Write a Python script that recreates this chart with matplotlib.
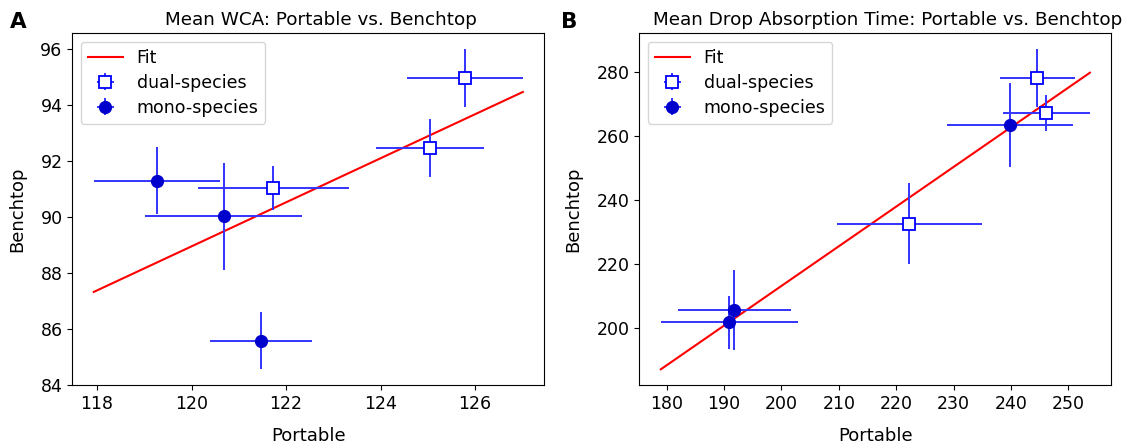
import matplotlib.pyplot as plt
import numpy as np

# Panel A: mean WCA
wca_mono_x = [119.27, 120.68, 121.47]
wca_mono_xerr = [1.34, 1.66, 1.08]
wca_mono_y = [91.29, 90.02, 85.58]
wca_mono_yerr = [1.2, 1.9, 1.03]

wca_dual_x = [121.73, 125.05, 125.78]
wca_dual_xerr = [1.6, 1.14, 1.23]
wca_dual_y = [91.03, 92.47, 94.96]
wca_dual_yerr = [0.78, 1.05, 1.04]

wca_fit = [0.788, -5.61]  # slope, intercept

# Panel B: mean drop absorption time
dat_mono_x = [190.89, 191.77, 239.8]
dat_mono_xerr = [11.93, 9.82, 11.0]
dat_mono_y = [201.67, 205.63, 263.23]
dat_mono_yerr = [8.2, 12.5, 13.1]

dat_dual_x = [222.3, 244.58, 246.16]
dat_dual_xerr = [12.6, 6.5, 7.6]
dat_dual_y = [232.5, 277.92, 267.08]
dat_dual_yerr = [12.65, 9.06, 5.5]

dat_fit = [1.239, -34.74]

panels = [
    ("A", "Mean WCA: Portable vs. Benchtop",
     (wca_mono_x, wca_mono_xerr, wca_mono_y, wca_mono_yerr),
     (wca_dual_x, wca_dual_xerr, wca_dual_y, wca_dual_yerr), wca_fit),
    ("B", "Mean Drop Absorption Time: Portable vs. Benchtop",
     (dat_mono_x, dat_mono_xerr, dat_mono_y, dat_mono_yerr),
     (dat_dual_x, dat_dual_xerr, dat_dual_y, dat_dual_yerr), dat_fit),
]

fig = plt.figure(figsize=(11.26, 4.43), dpi=100)
positions = [[0.0642, 0.1302, 0.4192, 0.7946], [0.5678, 0.1302, 0.4192, 0.7946]]
ecol = (0.2, 0.2, 1.0)

for (letter, title, mono, dual, fit), pos in zip(panels, positions):
    ax = fig.add_axes(pos)
    mx, mxe, my, mye = [np.array(v) for v in mono]
    dx, dxe, dy, dye = [np.array(v) for v in dual]

    # fit line spans the full extent of the horizontal error bars
    lo = min((mx - mxe).min(), (dx - dxe).min())
    hi = max((mx + mxe).max(), (dx + dxe).max())
    xs = np.linspace(lo, hi, 100)
    ax.plot(xs, fit[0] * xs + fit[1], color='red', lw=1.5, label='Fit', zorder=2)

    ax.errorbar(dx, dy, xerr=dxe, yerr=dye, fmt='s', ms=8, mfc='white',
                mec='blue', mew=1.3, ecolor=ecol, elinewidth=1.4, capsize=0,
                label='dual-species', zorder=3)
    ax.errorbar(mx, my, xerr=mxe, yerr=mye, fmt='o', ms=8.5, color='mediumblue',
                ecolor=ecol, elinewidth=1.4, capsize=0,
                label='mono-species', zorder=3)

    ax.set_title(title, fontsize=13.2, x=0.527)
    ax.set_xlabel('Portable', fontsize=13, labelpad=10)
    ax.set_ylabel('Benchtop', fontsize=13, labelpad=10)
    ax.tick_params(labelsize=12.5)
    ax.legend(loc='upper left', fontsize=12.5, labelspacing=0.4)
    fig.text(pos[0] - 0.055 if letter == "A" else pos[0] - 0.07, 0.937, letter,
             fontsize=15.5, fontweight='bold')

fig.savefig('out.png', dpi=100)
